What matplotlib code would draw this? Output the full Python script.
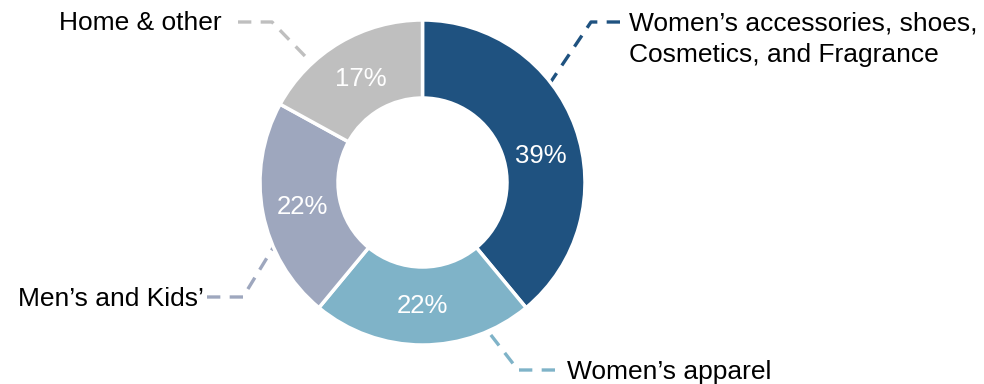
import numpy as np
import matplotlib
matplotlib.use("Agg")
import matplotlib.pyplot as plt

categories = ["Women’s accessories, shoes,\nCosmetics, and Fragrance",
              "Women’s apparel", "Men’s and Kids’", "Home & other"]
values = [39, 22, 22, 17]
pct_labels = ["39%", "22%", "22%", "17%"]
colors = ["#1F5280", "#7FB3C8", "#9EA7BE", "#BFBFBF"]

W, H = 984, 384
plt.rcParams['font.family'] = ['Liberation Sans', 'DejaVu Sans']

fig = plt.figure(figsize=(W / 100, H / 100), dpi=100)
ax = fig.add_axes([0, 0, 1, 1])

def Y(y):
    return H - y

R = 162.5
cx, cy = 422.5, Y(182.5)
wedges, _ = ax.pie(values, colors=colors, startangle=90, counterclock=False,
                   radius=R, center=(cx, cy),
                   wedgeprops=dict(width=R * 0.48, edgecolor='white', linewidth=2.5))
ax.set_xlim(0, W)
ax.set_ylim(0, H)
ax.set_aspect('equal')
ax.axis('off')

# percentage labels
pct_r = 122
pct_shift = [-6.5, 0, 0, 0]  # degrees (math direction)
for w, lab, sh in zip(wedges, pct_labels, pct_shift):
    a = np.deg2rad((w.theta1 + w.theta2) / 2 + sh)
    ax.text(cx + pct_r * np.cos(a), cy + pct_r * np.sin(a) - 1.5, lab, color='white',
            fontsize=18.5, ha='center', va='center')

# leader lines: anchor fraction within wedge (clockwise), elbow & end in pixels
anchor_frac = [0.37, 0.2, 0.34, 0.3]
elbows = [(591, 22), (518, 370), (243, 297), (272, 22)]
ends = [(620, 22), (555, 370), (207, 297), (238, 22)]
text_pos = [(629, 39.5), (567, 372), (204, 299), (222, 23)]
text_ha = ['left', 'left', 'right', 'right']

for w, f, el, en, c in zip(wedges, anchor_frac, elbows, ends, colors):
    ang = np.deg2rad(w.theta2 - f * (w.theta2 - w.theta1))
    sx, sy = cx + R * np.cos(ang), cy + R * np.sin(ang)
    # drawn from the label end toward the ring so the dash pattern starts at the label
    ax.plot([en[0], el[0], sx], [Y(en[1]), Y(el[1]), sy], color=c, lw=2.4,
            linestyle=(0, (4.0, 2.8)), solid_capstyle='butt', dash_capstyle='butt',
            zorder=0)

for cat, (tx, ty), ha in zip(categories, text_pos, text_ha):
    ax.text(tx, Y(ty), cat, fontsize=19, ha=ha, va='center', color='black',
            linespacing=1.4)

fig.savefig("out.png", dpi=100)
